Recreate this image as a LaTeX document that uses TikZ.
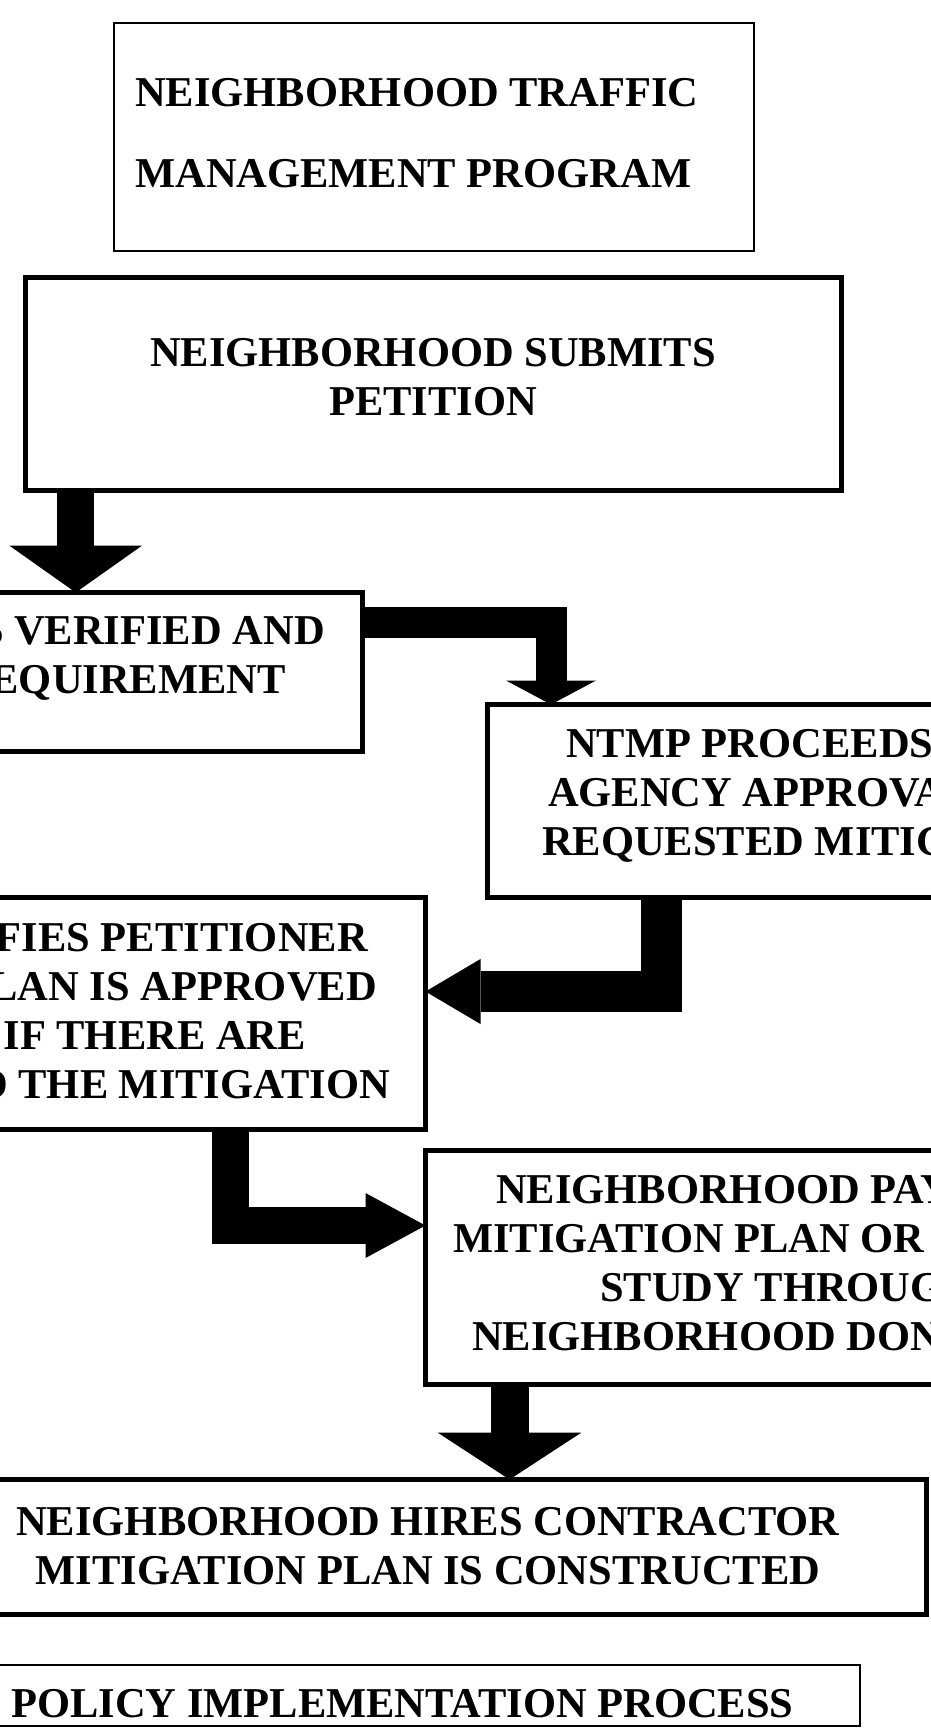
\documentclass[tikz,border=0pt]{standalone}
\usepackage{fontspec}
\setmainfont{Liberation Serif}
\usetikzlibrary{arrows.meta}

\begin{document}
\begin{tikzpicture}[x=1pt, y=-1pt,
  box/.style={draw, line width=5pt, inner sep=0pt, outer sep=0pt, anchor=north west},
  thinbox/.style={box, line width=2pt},
  words/.style={inner sep=0pt, text width=#1, font=\bfseries\fontsize{42.5}{49}\selectfont},
  pipe/.style n args={3}{line width=#1, -{Triangle[width=#2, length=#3, line width=0pt]}}]
\useasboundingbox (0,0) rectangle (930,1733);
% boxes
\node[thinbox, minimum width=640pt, minimum height=228pt] (title) at (114,23) {};
\node[box, minimum width=816.5pt, minimum height=213pt] (petition) at (25,277.5) {};
\node[box, minimum width=562.5pt, minimum height=159pt] (verify) at (-200,592.5) {};
\node[box, minimum width=712.5pt, minimum height=193pt] (proceed) at (487.5,704.5) {};
\node[box, minimum width=625.5pt, minimum height=232pt] (notify) at (-200,897.5) {};
\node[box, minimum width=700pt, minimum height=234pt] (pays) at (425.5,1150.5) {};
\node[box, minimum width=997pt, minimum height=135pt] (hires) at (-70.5,1479.5) {};
\node[thinbox, minimum width=960pt, minimum height=61pt] (policy) at (-100,1665) {};
% texts
\node[words=700pt, anchor=base west, align=flush left] (title-txt) at (135,106.5) {NEIGHBORHOOD TRAFFIC\\[32pt]MANAGEMENT PROGRAM};
\node[words=800pt, anchor=base, align=flush center] (petition-txt) at (433,366.5) {NEIGHBORHOOD SUBMITS\\PETITION};
\node[words=400pt, anchor=base east, align=flush right] (verify-txt) at (325,644) {S VERIFIED AND\\EQUIREMENT\hbox to 39pt{}};
\node[words=500pt, anchor=base west, align=flush left] (proceed-txt) at (542,757) {\hspace*{24pt}NTMP PROCEEDS\\\hspace*{6pt}AGENCY APPROVA\\REQUESTED MITIG};
\node[words=450pt, anchor=base east, align=flush right] (notify-txt) at (390,951) {FIES PETITIONER\hbox to 22pt{}\\LAN IS APPROVED\hbox to 13pt{}\\IF THERE ARE\hbox to 84pt{}\\D THE MITIGATION};
\node[words=600pt, anchor=base west, align=flush left] (pays-txt) at (453,1203) {\hspace*{43pt}NEIGHBORHOOD PAY\\MITIGATION PLAN OR\\\hspace*{147pt}STUDY THROUG\\\hspace*{19pt}NEIGHBORHOOD DON};
\node[words=900pt, anchor=base, align=flush center] (hires-txt) at (428,1535) {NEIGHBORHOOD HIRES CONTRACTOR\\MITIGATION PLAN IS CONSTRUCTED};
\node[words=850pt, anchor=base west, align=flush left] (policy-txt) at (11,1717) {POLICY IMPLEMENTATION PROCESS};
% arrows
\coordinate (a1) at (75.7,0);
\coordinate (a2) at (551,622.5);
\coordinate (a3) at (661.5,991.5);
\coordinate (a4) at (230.5,1225.5);
\coordinate (a5) at (509.5,0);
\draw[pipe={36.5pt}{133pt}{47pt}] (a1 |- petition.south) -- (a1 |- verify.north);
\draw[pipe={31pt}{90pt}{24pt}] (a2 -| verify.east) -| (a2 |- proceed.north);
\draw[pipe={41pt}{65pt}{55pt}] (a3 |- proceed.south) |- (a3 -| notify.east);
\draw[pipe={37pt}{65pt}{60pt}] (a4 |- notify.south) |- (a4 -| pays.west);
\draw[pipe={38pt}{144pt}{47pt}] (a5 |- pays.south) -- (a5 |- hires.north);
\end{tikzpicture}
\end{document}
